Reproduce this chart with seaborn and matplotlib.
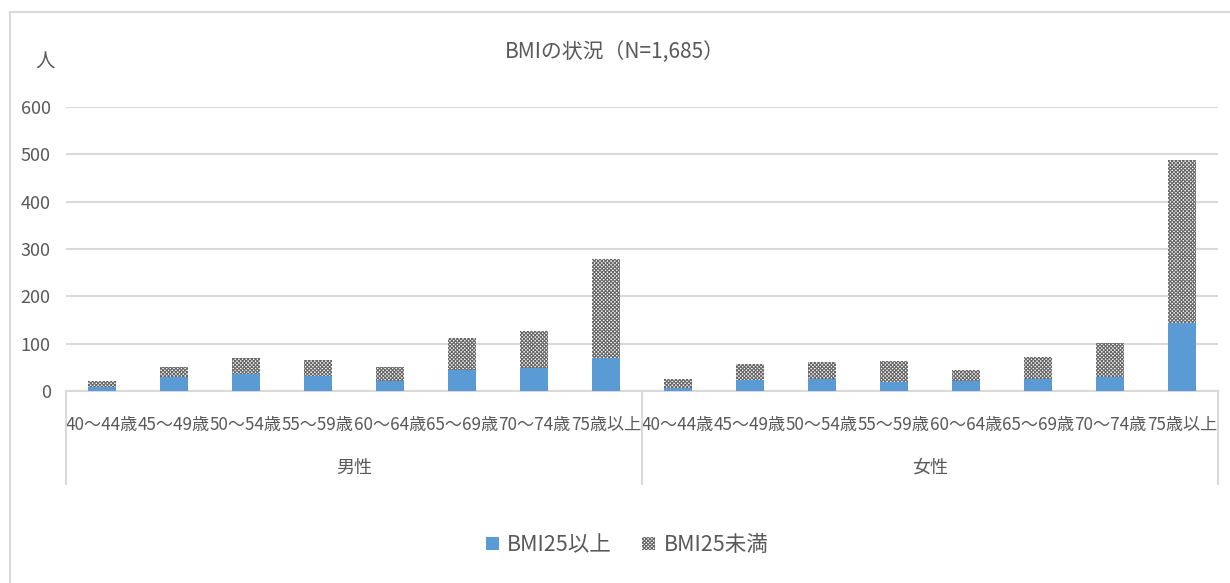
import pandas as pd
import numpy as np
import seaborn as sns
import matplotlib
matplotlib.use('Agg')
import matplotlib.pyplot as plt
from matplotlib.patches import Patch
from matplotlib.lines import Line2D

# data
genders = ["男性", "女性"]
ages = ["40〜44歳", "45〜49歳", "50〜54歳", "55〜59歳",
        "60〜64歳", "65〜69歳", "70〜74歳", "75歳以上"]
male_over25 = [8, 30, 35, 32, 22, 44, 48, 69]
male_under25 = [14, 20, 34, 33, 29, 67, 79, 209]
female_over25 = [7, 23, 26, 18, 22, 25, 29, 143]
female_under25 = [18, 35, 35, 45, 22, 46, 73, 345]
series_names = ["BMI25以上", "BMI25未満"]
title = "BMIの状況（N=1,685）"

sns.set_theme(style='white')
plt.rcParams['font.family'] = ['Noto Sans CJK JP', 'DejaVu Sans']
plt.rcParams['hatch.linewidth'] = 0.8

txt = '#595959'
grid = '#D9D9D9'
blue = '#5B9BD5'
hatch_col = '#666666'
hatch = 'x' * 9

df = pd.DataFrame({
    "gender": np.repeat(genders, len(ages)),
    "age": ages * 2,
    "over": male_over25 + female_over25,
    "under": male_under25 + female_under25,
})
df["key"] = df["gender"] + "_" + df["age"]
df["total"] = df["over"] + df["under"]
order = df["key"].tolist()

fig = plt.figure(figsize=(12.3, 5.83), dpi=100)
ax = fig.add_axes([66/1230, 1-391/583, (1218-66)/1230, (391-107)/583])

sns.barplot(data=df, x="key", y="total", order=order, color='white',
            width=0.4, hatch=hatch, edgecolor=hatch_col, linewidth=0, ax=ax,
            saturation=1, zorder=3)
sns.barplot(data=df, x="key", y="over", order=order, color=blue,
            width=0.4, linewidth=0, ax=ax, saturation=1, zorder=4)

ax.set_ylim(0, 600)
ax.set_xlim(-0.5, len(order) - 0.5)
ax.set_yticks(range(0, 601, 100))
ax.yaxis.grid(True, color=grid, lw=1.5, zorder=0)
ax.set_axisbelow(True)
for s in ['top', 'right', 'left']:
    ax.spines[s].set_visible(False)
ax.spines['bottom'].set_color(grid)
ax.spines['bottom'].set_linewidth(1.5)
ax.set_xlabel('')
ax.set_ylabel('')
ax.set_xticks(range(len(order)))
ax.set_xticklabels(df["age"].tolist(), fontsize=12.3, color=txt)
ax.tick_params(axis='x', length=0, pad=18)
ax.tick_params(axis='y', length=0, pad=11, labelsize=13, labelcolor=txt)

# category separators and group labels
n = len(ages)
for xs in [-0.5, n - 0.5, 2*n - 0.5]:
    ax.add_line(Line2D([xs, xs], [0, -0.327], transform=ax.get_xaxis_transform(),
                       color=grid, lw=1.5, clip_on=False))
for i, g in enumerate(genders):
    ax.text(i*n + (n-1)/2, -0.271, g, transform=ax.get_xaxis_transform(),
            ha='center', va='center', fontsize=13, color=txt)

fig.text(0.5, 1-52/583, title, ha='center', va='center', fontsize=15, color=txt)
fig.text(45/1230, 1-62/583, "人", ha='center', va='center', fontsize=14, color=txt)

# outer chart border
fig.add_artist(Line2D([10/1230, 1.0], [1-12/583]*2, color=grid, lw=1.5))
fig.add_artist(Line2D([10/1230]*2, [0, 1-12/583], color=grid, lw=1.5))

handles = [Patch(facecolor=blue, edgecolor=blue, lw=0),
           Patch(facecolor='white', edgecolor=hatch_col, hatch=hatch, lw=0)]
fig.legend(handles, series_names, loc='center', bbox_to_anchor=(0.5 + 12/1230, 1-545/583),
           ncol=2, frameon=False, fontsize=15.5, labelcolor=txt,
           handlelength=0.6, handleheight=0.6, handletextpad=0.4, columnspacing=1.4)

fig.savefig('out.png', dpi=100)
